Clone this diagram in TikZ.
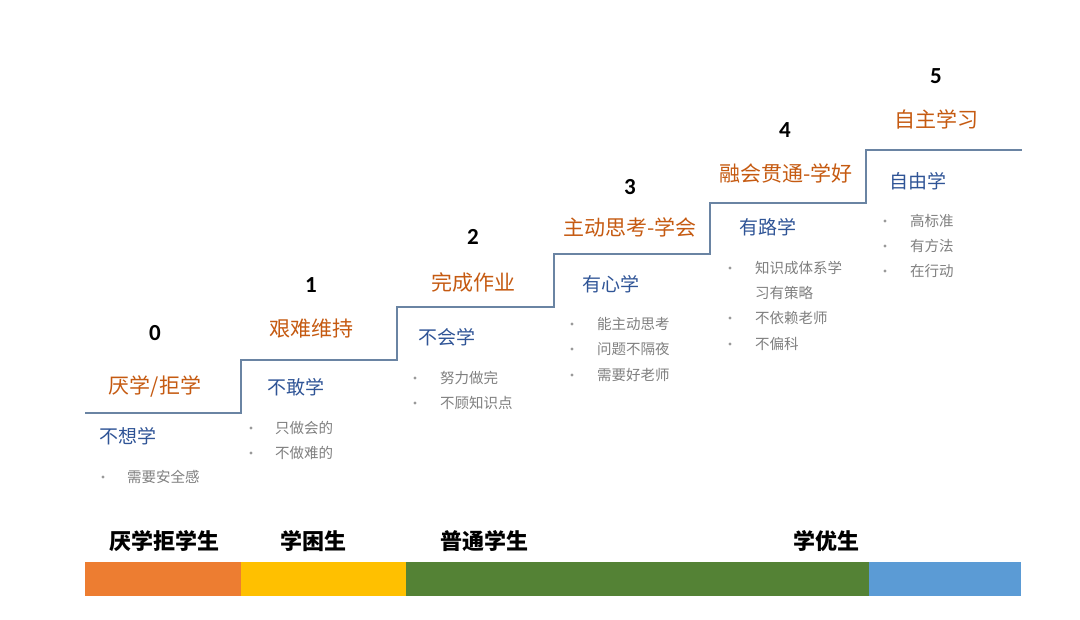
\documentclass[tikz,border=0pt]{standalone}
\usepackage{fontspec}
\setmainfont{Noto Sans CJK SC}
\newfontfamily\numfont{Carlito}
\definecolor{stairc}{HTML}{6A84A3}
\definecolor{titlec}{HTML}{C55A11}
\definecolor{subc}{HTML}{2F5496}
\definecolor{itemc}{HTML}{7F7F7F}
\definecolor{barA}{HTML}{ED7D31}
\definecolor{barB}{HTML}{FFC000}
\definecolor{barC}{HTML}{548235}
\definecolor{barD}{HTML}{5B9BD5}
\begin{document}
\begin{tikzpicture}[x=1pt,y=-1pt,
  every node/.style={inner sep=0pt,outer sep=0pt},
  stair/.style={draw=stairc,line width=1.1pt},
  num/.style={font=\numfont\bfseries\fontsize{23}{26}\selectfont,text=black},
  title/.style={font=\fontsize{21}{25}\selectfont,text=titlec},
  sub/.style={font=\fontsize{19}{23}\selectfont,text=subc},
  item/.style={anchor=west,font=\fontsize{14.5}{17}\selectfont,text=itemc},
  dot/.style={circle,fill=itemc!80,minimum size=3.2pt},
  group/.style={font=\bfseries\fontsize{22}{26}\selectfont,text=black}]
\useasboundingbox (0,0) rectangle (1080,620);
% staircase
\draw[stair] (85,413) -- (241,413) -- (241,360) -- (397,360) -- (397,307) -- (554,307) -- (554,254) -- (710,254) -- (710,203) -- (866,203) -- (866,150) -- (1022,150);
% numbers
\node[num] (n0) at (155,333) {0};
\node[num] (n1) at (311,285) {1};
\node[num] (n2) at (473,237) {2};
\node[num] (n3) at (630,187) {3};
\node[num] (n4) at (785,130) {4};
\node[num] (n5) at (936,76) {5};
% titles
\node[title] (t0) at (155,386) {厌学/拒学};
\node[title] (t1) at (311,329) {艰难维持};
\node[title] (t2) at (473,283) {完成作业};
\node[title] (t3) at (630,227) {主动思考-学会};
\node[title] (t4) at (786,173) {融会贯通-学好};
\node[title] (t5) at (936,119) {自主学习};
% subtitles
\node[sub] (s0) at (128,436) {不想学};
\node[sub] (s1) at (296,387) {不敢学};
\node[sub] (s2) at (447,337) {不会学};
\node[sub] (s3) at (611,284) {有心学};
\node[sub] (s4) at (768,227) {有路学};
\node[sub] (s5) at (918,181) {自由学};
% items
\node[dot] (d01) at (103,477) {}; \node[item] (i01) at (127,477) {需要安全感};
\node[dot] (d11) at (251,428) {}; \node[item] (i11) at (275,428) {只做会的};
\node[dot] (d12) at (251,453) {}; \node[item] (i12) at (275,453) {不做难的};
\node[dot] (d21) at (415,378) {}; \node[item] (i21) at (440,378) {努力做完};
\node[dot] (d22) at (415,403) {}; \node[item] (i22) at (440,403) {不顾知识点};
\node[dot] (d31) at (572,324) {}; \node[item] (i31) at (597,324) {能主动思考};
\node[dot] (d32) at (572,349) {}; \node[item] (i32) at (597,349) {问题不隔夜};
\node[dot] (d33) at (572,375) {}; \node[item] (i33) at (597,375) {需要好老师};
\node[dot] (d41) at (730,268) {}; \node[item] (i41) at (755,268) {知识成体系学};
\node[item] (i41b) at (755,293) {习有策略};
\node[dot] (d42) at (730,318) {}; \node[item] (i42) at (755,318) {不依赖老师};
\node[dot] (d43) at (730,344) {}; \node[item] (i43) at (755,344) {不偏科};
\node[dot] (d51) at (885,221) {}; \node[item] (i51) at (910,221) {高标准};
\node[dot] (d52) at (885,246) {}; \node[item] (i52) at (910,246) {有方法};
\node[dot] (d53) at (885,271) {}; \node[item] (i53) at (910,271) {在行动};
% group labels
\node[group] (g0) at (164,541) {厌学拒学生};
\node[group] (g1) at (313,541) {学困生};
\node[group] (g2) at (484,541) {普通学生};
\node[group] (g3) at (826,541) {学优生};
% bar
\fill[barA] (85,562) rectangle (241,596);
\fill[barB] (241,562) rectangle (406,596);
\fill[barC] (406,562) rectangle (869,596);
\fill[barD] (869,562) rectangle (1021,596);
\end{tikzpicture}
\end{document}
